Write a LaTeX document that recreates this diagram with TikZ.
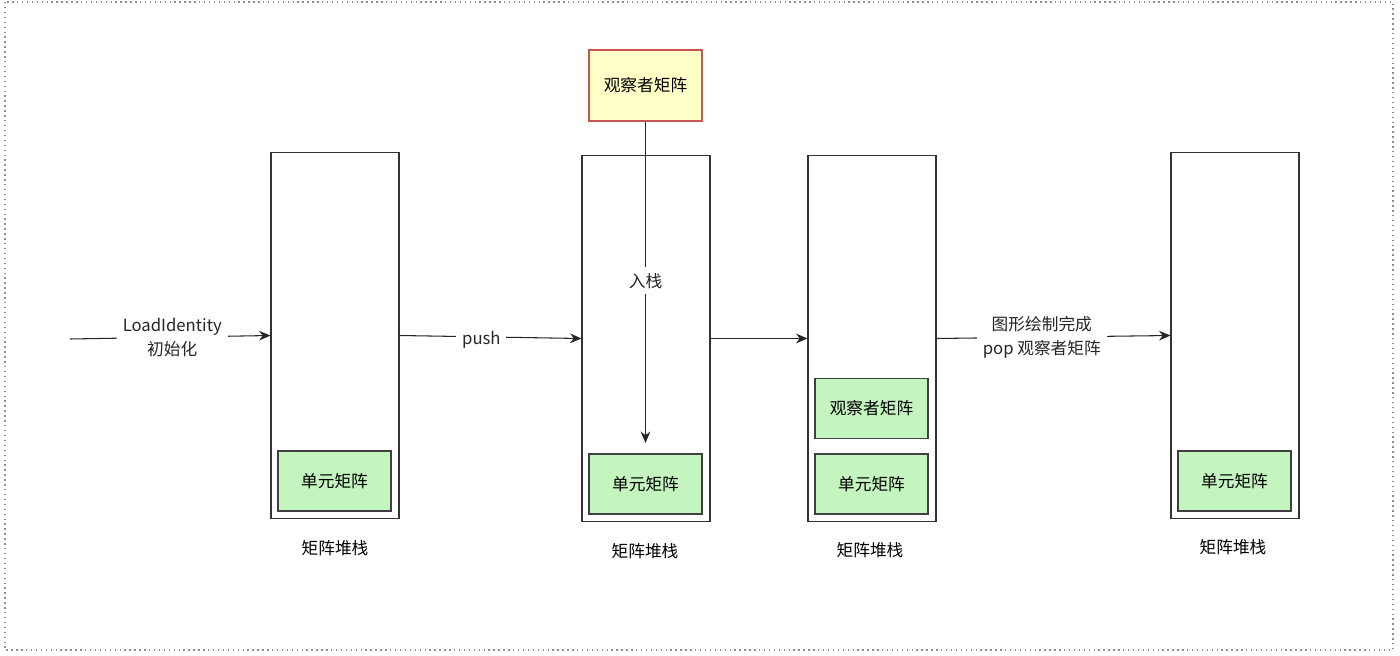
\documentclass[tikz,border=0pt]{standalone}
\usepackage{fontspec}
\setmainfont{Noto Sans CJK SC}
\usetikzlibrary{arrows.meta}
\definecolor{matgreen}{RGB}{196,245,190}
\definecolor{obsyellow}{RGB}{255,255,200}
\definecolor{obsred}{RGB}{200,85,80}
\tikzset{
  stackbox/.style={draw=black!80, line width=0.6pt, minimum width=2.56cm, minimum height=7.34cm},
  matbox/.style={draw=black!75, fill=matgreen, line width=0.6pt, minimum width=2.26cm, minimum height=1.2cm, font=\fontsize{9.5}{11}\selectfont},
  obsbox/.style={draw=obsred, fill=obsyellow, line width=0.6pt, minimum width=2.26cm, minimum height=1.42cm, font=\fontsize{9.5}{11}\selectfont},
  lbl/.style={font=\fontsize{9.5}{13.5}\selectfont, align=center},
  arr/.style={-{Stealth[length=6.5pt,width=5.5pt]}, line width=0.6pt, black!85}
}

\begin{document}
\begin{tikzpicture}[x=0.02cm, y=-0.02cm]
  \useasboundingbox (0,0) rectangle (1400,656);
  \draw[black!45, dotted, line width=0.8pt] (5,2) rectangle (1393,650);

  % stacks
  \node[stackbox] (s1) at (335,335.5) {};
  \node[stackbox] (s2) at (646,338.5) {};
  \node[stackbox] (s3) at (872,338.5) {};
  \node[stackbox] (s4) at (1235,335.5) {};

  \node[matbox] (g1) at (334.5,481) {单元矩阵};
  \node[matbox] (g2) at (645.5,484) {单元矩阵};
  \node[matbox] (v3) at (871.5,408.5) {观察者矩阵};
  \node[matbox] (g3) at (871.5,484) {单元矩阵};
  \node[matbox] (g4) at (1234.5,481) {单元矩阵};

  \node[obsbox] (obs) at (645.5,85.5) {观察者矩阵};

  \node[lbl] (t1) at (335,548) {矩阵堆栈};
  \node[lbl] (t2) at (645,551) {矩阵堆栈};
  \node[lbl] (t3) at (870,550) {矩阵堆栈};
  \node[lbl] (t4) at (1233,547) {矩阵堆栈};

  % arrows
  \coordinate (start) at (70,339);
  \draw[arr] (start) -- (s1.west)
    node[lbl, fill=white, pos=0.51] (init) {LoadIdentity\\初始化};
  \draw[arr] (s1.east) -- (s2.west)
    node[lbl, fill=white, pos=0.45, yshift=-1.5pt] (push) {push};
  \draw[arr] (s2.east) -- (s3.west);
  \draw[arr] (s3.east) -- (s4.west)
    node[lbl, fill=white, pos=0.45] (pop) {图形绘制完成\\pop 观察者矩阵};
  \draw[arr, shorten >=6pt] (obs.south) -- (g2.north)
    node[lbl, fill=white, pos=0.48] (in) {入栈};
\end{tikzpicture}
\end{document}
